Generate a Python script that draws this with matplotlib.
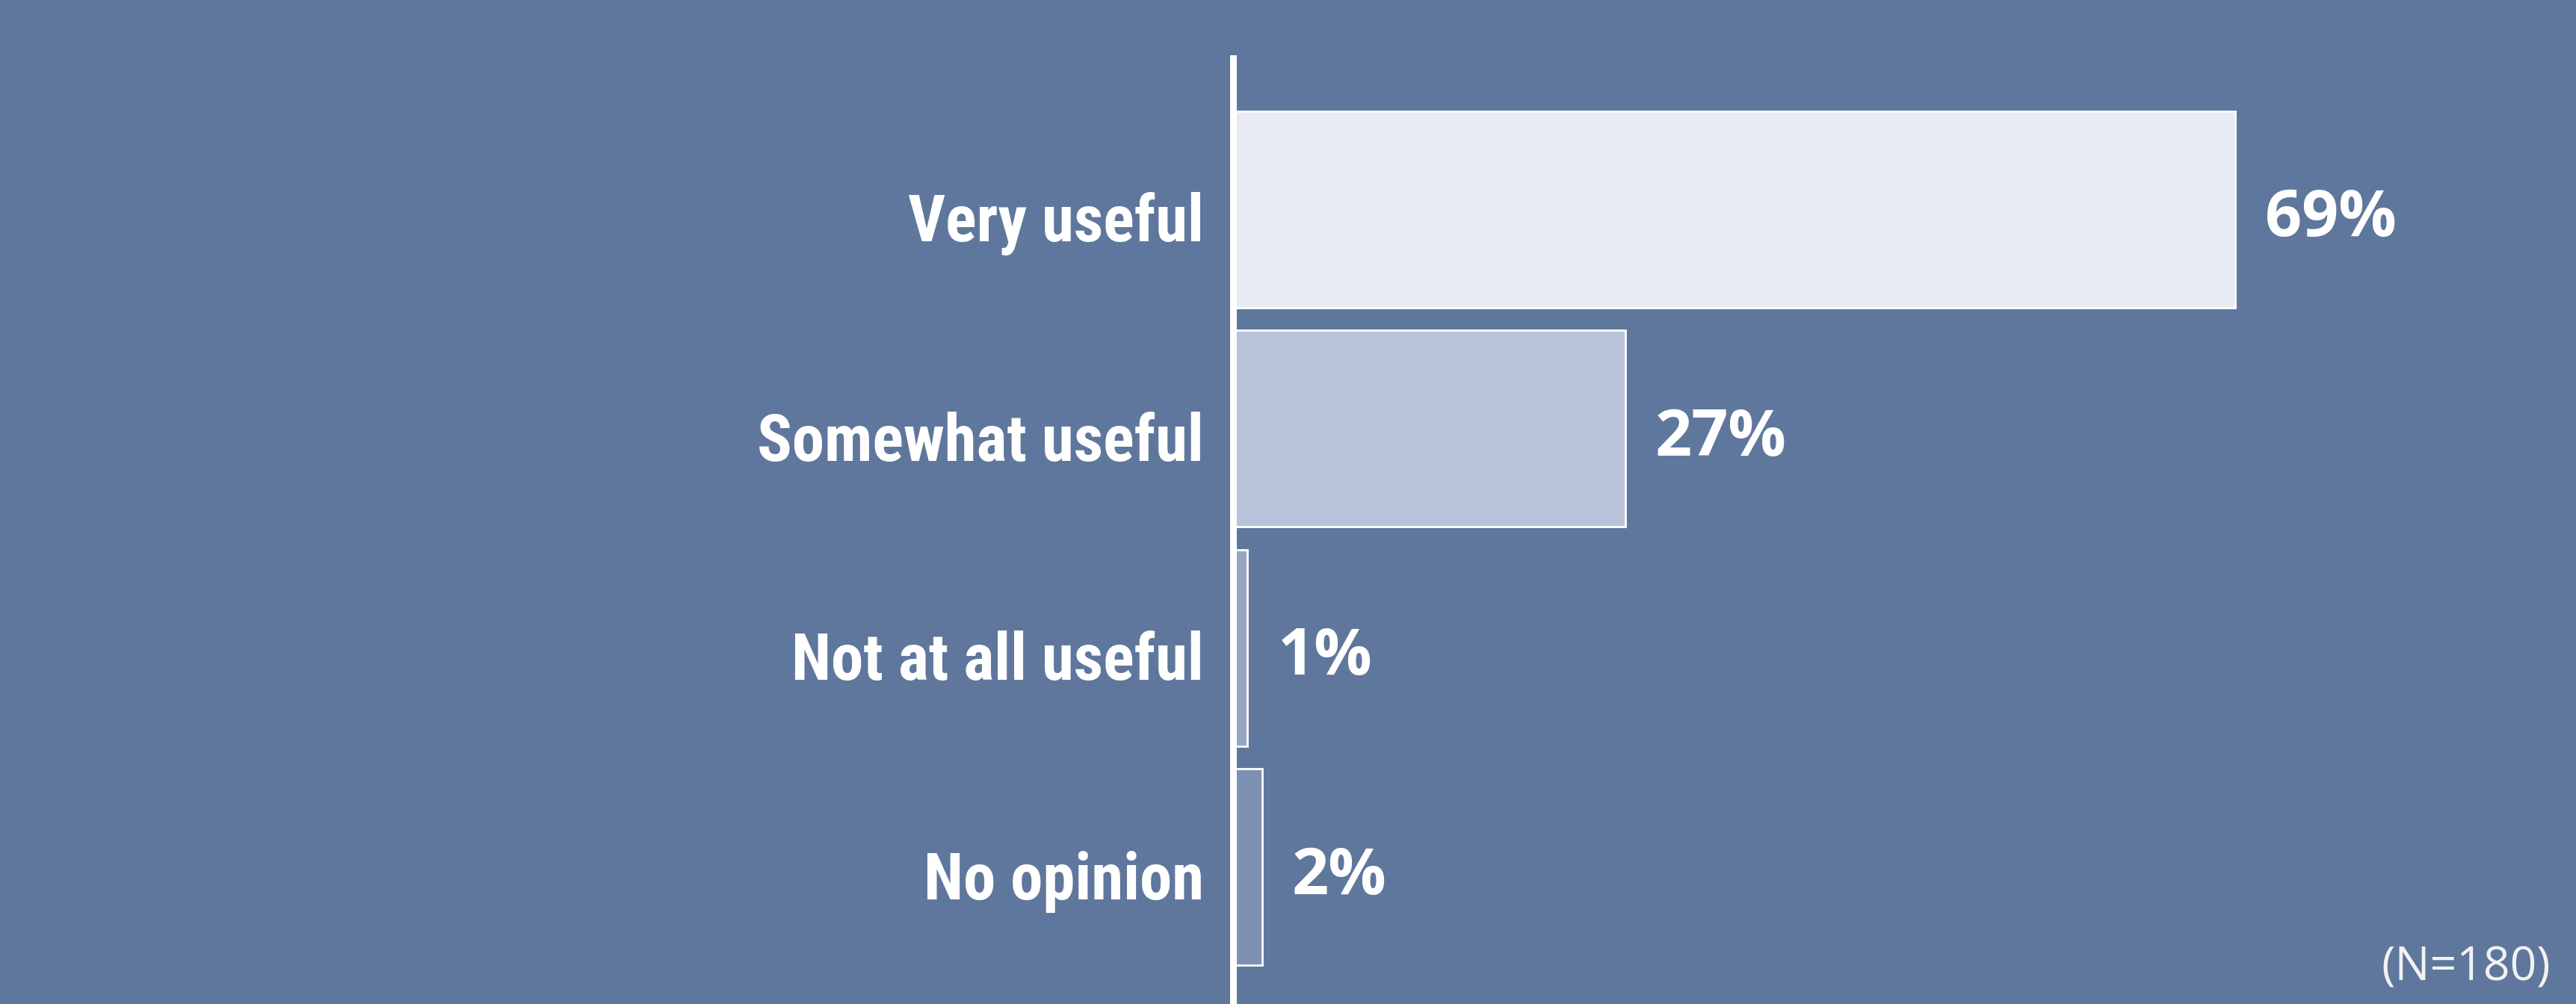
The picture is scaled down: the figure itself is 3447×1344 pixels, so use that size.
import matplotlib
matplotlib.use("Agg")
import matplotlib.pyplot as plt
from matplotlib.transforms import ScaledTranslation

categories = ["Very useful", "Somewhat useful", "Not at all useful", "No opinion"]
values = [69, 27, 1, 2]
value_labels = ["69%", "27%", "1%", "2%"]
bar_colors = ["#e8ebf3", "#b8c2d8", "#97a6c4", "#7e90b4"]
note = "(N=180)"

BG = "#5f779c"
cond_font = ["Roboto Condensed", "Fira Sans Condensed", "DejaVu Sans"]
num_font = ["Open Sans", "DejaVu Sans"]

W, H, DPI = 3448, 1344, 100
fig = plt.figure(figsize=(W / DPI, H / DPI), dpi=DPI, facecolor=BG)
x0 = 1650
ax_left = x0 / W
ax_top = 1 - 78 / H
ax = fig.add_axes([ax_left, 0.0, 1 - ax_left, ax_top])
ax.set_facecolor(BG)

pitch = 293.5
c0 = 280.0
px_per_pct = (2991 - x0) / 69
y = list(range(len(categories)))
ax.barh(y, values, height=263 / pitch, color=bar_colors, edgecolor="white",
        linewidth=2, zorder=2)
ax.set_ylim((1344 - c0) / pitch, (78 - c0) / pitch)
ax.set_xlim(0, (W - x0) / px_per_pct)

ax.set_yticks(y)
ax.set_yticklabels(categories, fontsize=62.5, fontweight="bold", color="white",
                   family=cond_font)
ax.tick_params(axis="y", length=0, pad=28)
shift = ScaledTranslation(0, -31 / 72, fig.dpi_scale_trans)
for lab in ax.get_yticklabels():
    lab.set_verticalalignment("baseline")
    lab.set_transform(lab.get_transform() + shift)
ax.set_xticks([])

for s in ["top", "right", "bottom"]:
    ax.spines[s].set_visible(False)
ax.spines["left"].set_color("white")
ax.spines["left"].set_linewidth(6.5)
ax.spines["left"].set_zorder(3)

for yi, v, lab in zip(y, values, value_labels):
    ax.annotate(lab, xy=(v, yi), xytext=(29, -26), textcoords="offset points",
                ha="left", va="baseline", fontsize=62, fontweight="bold",
                color="white", family=num_font)

fig.text(3413 / W, 1 - 1313 / H, note, ha="right", va="baseline",
         fontsize=45, color="#f2f2f2", family=num_font)

fig.savefig("out.png", dpi=DPI, facecolor=BG)
